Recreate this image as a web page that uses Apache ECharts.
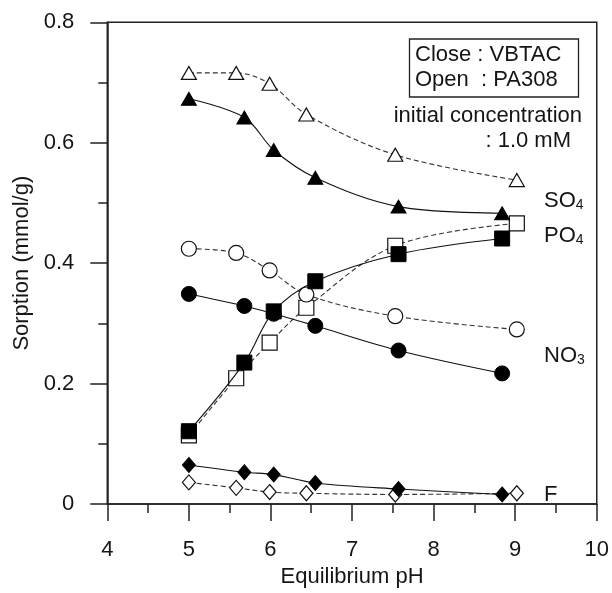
<!DOCTYPE html>
<html>
<head>
<meta charset="utf-8">
<script src="https://cdn.jsdelivr.net/npm/echarts@6/dist/echarts.min.js"></script>
<style>
html,body{margin:0;padding:0;background:#fff;}
#chart{width:612px;height:593px;}
</style>
</head>
<body>
<div id="chart"></div>
<script>
// Equilibrium pH of each sample (closed = VBTAC, open = PA308)
const phClose = [5.00, 5.68, 6.04, 6.55, 7.57, 8.84];
const phOpen  = [5.00, 5.58, 5.99, 6.44, 7.53, 9.02];
// Sorption (mmol/g)
const so4Close = [0.673, 0.642, 0.588, 0.542, 0.494, 0.483];
const so4Open  = [0.716, 0.716, 0.698, 0.647, 0.580, 0.538];
const po4Close = [0.121, 0.235, 0.320, 0.370, 0.415, 0.441];
const po4Open  = [0.114, 0.209, 0.268, 0.326, 0.429, 0.466];
const no3Close = [0.349, 0.329, 0.316, 0.296, 0.255, 0.217];
const no3Open  = [0.424, 0.417, 0.388, 0.348, 0.312, 0.290];
const fClose   = [0.065, 0.053, 0.049, 0.035, 0.025, 0.016];
const fOpen    = [0.036, 0.027, 0.020, 0.018, 0.016, 0.018];

const xTicks = [4, 5, 6, 7, 8, 9, 10];
const yTicks = [0, 0.2, 0.4, 0.6, 0.8];

const FONT = '"Liberation Sans", Arial, sans-serif';
const TXT = '#151515';

function pairs(xs, ys) { return xs.map((x, i) => [x, ys[i]]); }

function makeSeries(name, xs, ys, symbol, size, closed) {
  return {
    name: name,
    type: 'line',
    data: pairs(xs, ys),
    smooth: 0.35,
    symbol: symbol,
    symbolSize: size,
    showAllSymbol: true,
    lineStyle: closed
      ? { color: '#111', width: 1.1, type: 'solid' }
      : { color: '#333', width: 1.1, type: [5, 3] },
    itemStyle: closed
      ? { color: '#000', borderColor: '#000', borderWidth: 1 }
      : { color: '#fff', borderColor: '#111', borderWidth: 1.2 },
    emphasis: { disabled: true },
    z: closed ? 4 : 3,
    animation: false
  };
}

const chart = echarts.init(document.getElementById('chart'), null, { renderer: 'canvas' });

const subRich = {
  m: { fontFamily: FONT, fontSize: 22, color: TXT },
  s: { fontFamily: FONT, fontSize: 14, color: TXT, verticalAlign: 'bottom', padding: [9, 0, 0, 0] }
};

function speciesLabel(main, sub, x, y) {
  return {
    type: 'text', left: x, top: y, z: 10,
    style: {
      text: sub ? '{m|' + main + '}{s|' + sub + '}' : '{m|' + main + '}',
      rich: subRich,
      fill: TXT
    }
  };
}

const option = {
  backgroundColor: '#fff',
  animation: false,
  grid: {
    left: 107.3, right: 13.7, top: 22.3, bottom: 82.3,
    show: true, borderColor: '#222', borderWidth: 1.5, backgroundColor: 'transparent'
  },
  xAxis: {
    type: 'value', min: 4, max: 10, interval: 1,
    name: 'Equilibrium pH', nameLocation: 'middle', nameGap: 58,
    nameTextStyle: { fontFamily: FONT, fontSize: 22, color: TXT },
    axisLine: { show: true, lineStyle: { color: '#222', width: 1.5 } },
    axisTick: { show: true, length: 17, lineStyle: { color: '#222', width: 1.5 } },
    minorTick: { show: true, splitNumber: 2, length: 9, lineStyle: { color: '#222', width: 1.5 } },
    splitLine: { show: false },
    axisLabel: {
      fontFamily: FONT, fontSize: 22, color: TXT, margin: 35,
      formatter: v => (xTicks.indexOf(v) >= 0 ? String(v) : '')
    }
  },
  yAxis: {
    type: 'value', min: 0, max: 0.8, interval: 0.2,
    name: 'Sorption (mmol/g)', nameLocation: 'middle', nameGap: 72,
    nameTextStyle: { fontFamily: FONT, fontSize: 22, color: TXT },
    axisLine: { show: true, lineStyle: { color: '#222', width: 1.5 } },
    axisTick: { show: true, length: 17, lineStyle: { color: '#222', width: 1.5 } },
    minorTick: { show: true, splitNumber: 2, length: 9, lineStyle: { color: '#222', width: 1.5 } },
    splitLine: { show: false },
    axisLabel: {
      fontFamily: FONT, fontSize: 22, color: TXT, margin: 33,
      formatter: v => {
        const t = yTicks.find(k => Math.abs(k - v) < 1e-9);
        return t === undefined ? '' : (t === 0 ? '0' : t.toFixed(1));
      }
    }
  },
  series: [
    makeSeries('SO4 open', phOpen, so4Open, 'triangle', [15, 13], false),
    makeSeries('PO4 open', phOpen, po4Open, 'rect', [15, 15], false),
    makeSeries('NO3 open', phOpen, no3Open, 'circle', 15, false),
    makeSeries('F open', phOpen, fOpen, 'diamond', [13, 15], false),
    makeSeries('SO4 close', phClose, so4Close, 'triangle', [15, 13], true),
    makeSeries('NO3 close', phClose, no3Close, 'circle', 15, true),
    makeSeries('PO4 close', phClose, po4Close, 'rect', [15, 15], true),
    makeSeries('F close', phClose, fClose, 'diamond', [13, 15], true)
  ],
  graphic: [
    {
      type: 'rect', z: 9,
      shape: { x: 409.5, y: 39, width: 169, height: 58 },
      style: { fill: '#fff', stroke: '#222', lineWidth: 1.3 }
    },
    {
      type: 'text', left: 415, top: 44, z: 10,
      style: { text: 'Close : VBTAC', font: '22px ' + FONT, fill: TXT }
    },
    {
      type: 'text', left: 415, top: 69, z: 10,
      style: { text: 'Open  : PA308', font: '22px ' + FONT, fill: TXT }
    },
    {
      type: 'text', right: 30, top: 105, z: 10,
      style: { text: 'initial concentration', font: '22px ' + FONT, fill: TXT }
    },
    {
      type: 'text', right: 41, top: 130, z: 10,
      style: { text: ': 1.0 mM', font: '22px ' + FONT, fill: TXT }
    },
    speciesLabel('SO', '4', 544, 190),
    speciesLabel('PO', '4', 544, 225),
    speciesLabel('NO', '3', 544, 345),
    speciesLabel('F', '', 544, 484)
  ]
};

chart.setOption(option);
</script>
</body>
</html>
